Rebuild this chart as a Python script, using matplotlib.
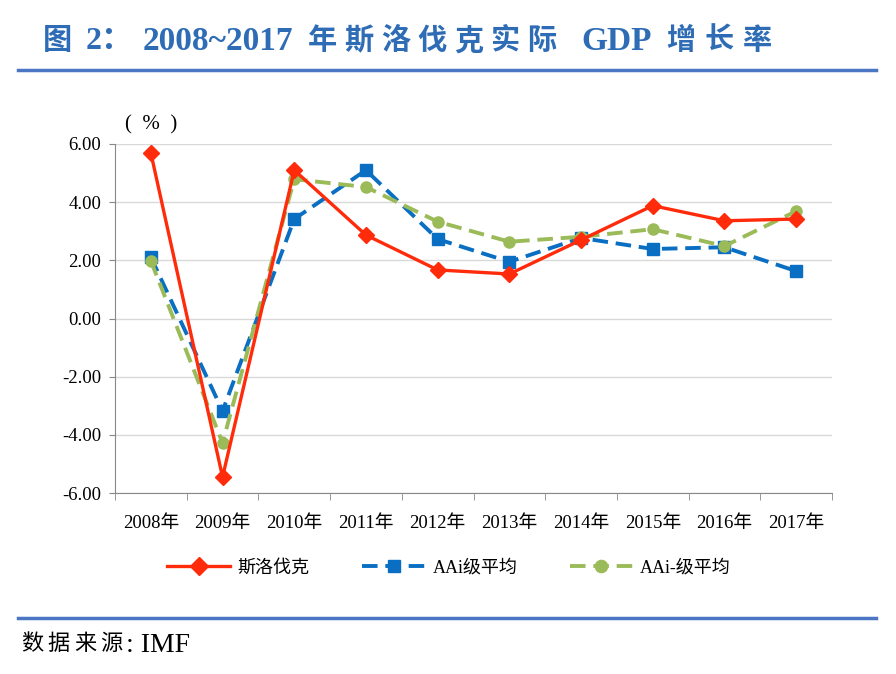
import matplotlib.pyplot as plt
from matplotlib.lines import Line2D
import numpy as np

plt.rcParams['font.family'] = ['Liberation Serif', 'Noto Sans CJK SC']

# --- データ ---
years = ['2008年', '2009年', '2010年', '2011年', '2012年', '2013年',
         '2014年', '2015年', '2016年', '2017年']
slovakia = [5.69, -5.45, 5.10, 2.87, 1.67, 1.53, 2.70, 3.88, 3.36, 3.42]
aai_avg = [2.11, -3.18, 3.42, 5.10, 2.73, 1.95, 2.77, 2.39, 2.45, 1.63]
aai_minus_avg = [1.98, -4.28, 4.79, 4.52, 3.33, 2.64, 2.81, 3.07, 2.49, 3.69]
yticks = [6, 4, 2, 0, -2, -4, -6]

red = '#FF2B0A'
blue = '#0A6FC2'
green = '#9BBB59'
rule = '#4A76C4'
title_c = '#2E6DB5'

fig = plt.figure(figsize=(8.96, 6.74), dpi=100)
W, H = 896, 674


def put(px, py, s, **kw):
    fig.text(px / W, 1 - py / H, s, va='center', ha='left', **kw)


# タイトル（文字間隔が広いので一文字ずつ置く）
ty = 41
put(43, ty, '图', fontsize=21, fontweight='bold', color=title_c)
put(86, ty, '2：', fontsize=23, fontweight='bold', color=title_c)
put(143, ty, '2008~2017', fontsize=24, fontweight='bold', color=title_c)
for i, ch in enumerate('年斯洛伐克实际'):
    put(308 + i * 36.5, ty, ch, fontsize=21, fontweight='bold', color=title_c)
put(581, ty, 'GDP', fontsize=24, fontweight='bold', color=title_c)
for i, ch in enumerate('增长率'):
    put(666 + i * 38.5, ty, ch, fontsize=21, fontweight='bold', color=title_c)

fig.add_artist(Line2D([18 / W, 876 / W], [1 - 70 / H, 1 - 70 / H],
                      color=rule, lw=2.5, transform=fig.transFigure))
fig.add_artist(Line2D([18 / W, 876 / W], [1 - 618 / H, 1 - 618 / H],
                      color=rule, lw=2.5, transform=fig.transFigure))

# 出典
for i, ch in enumerate('数据来源'):
    put(21 + i * 26.5, 645, ch, fontsize=16, color='black')
put(126, 645, ': IMF', fontsize=20, color='black')

# 軸
ax = fig.add_axes([115 / W, 1 - 493 / H, (832 - 115) / W, (493 - 144) / H])
x = np.arange(len(years))

ax.plot(x, slovakia, color=red, lw=2.4, marker='D', markersize=8,
        label='斯洛伐克', zorder=3)
ax.plot(x, aai_avg, color=blue, lw=2.8, ls=(0, (4, 2)), marker='s',
        markersize=8.5, label='AAi级平均', zorder=2)
ax.plot(x, aai_minus_avg, color=green, lw=2.8, ls=(0, (4, 2)), marker='o',
        markersize=8, label='AAi-级平均', zorder=2)

ax.set_xlim(-0.5, len(years) - 0.5)
ax.set_ylim(-6, 6)
ax.set_yticks(yticks)
ax.set_yticklabels([f'{v:.2f}' for v in yticks], fontsize=13.5)
ax.set_xticks(x)
ax.set_xticklabels(years, fontsize=13.5)
ax.tick_params(axis='x', which='major', length=0, pad=16)
ax.set_xticks(np.arange(-0.5, len(years)), minor=True)
ax.tick_params(axis='x', which='minor', length=5, color='#888888')
ax.tick_params(axis='y', length=4, color='#888888', pad=6)

ax.grid(axis='y', color='#D9D9D9', lw=1)
ax.set_axisbelow(True)
for s in ['top', 'right']:
    ax.spines[s].set_visible(False)
for s in ['left', 'bottom']:
    ax.spines[s].set_color('#888888')

ax.text(0, 6.65, '(  %  )', fontsize=15, ha='center', va='center',
        clip_on=False)

ax.legend(loc='center', bbox_to_anchor=(449 / W, 1 - 568 / H),
          bbox_transform=fig.transFigure, ncol=3, frameon=False,
          fontsize=13, handlelength=3.5, columnspacing=2.9,
          handletextpad=0.4, markerscale=1.1)

plt.savefig('out.png', dpi=100)
